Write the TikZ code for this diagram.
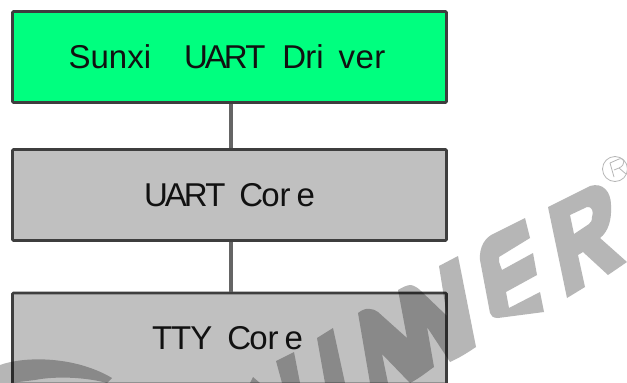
\documentclass[tikz,border=0pt]{standalone}
\usepackage{fontspec}
\setmainfont{Liberation Sans}
\definecolor{boxline}{HTML}{3E3E3E}
\definecolor{greenfill}{HTML}{00FF7F}
\definecolor{grayfill}{HTML}{C0C0C0}
\definecolor{wmark}{HTML}{B6B6B6}
\definecolor{inktext}{HTML}{111111}
\newcommand{\tk}[1]{\kern#1pt\relax}
\tikzset{
  layerbox/.style={draw=boxline,line width=2.8pt,rounded corners=1pt,minimum width=434pt,minimum height=91pt,inner sep=0pt,text=inktext,font=\fontsize{33}{35}\selectfont},
  link/.style={draw=boxline!80!white,line width=3.2pt},
  wm/.style={fill=wmark,draw=none}
}
\begin{document}
\begin{tikzpicture}[x=1pt,y=-1pt]
\useasboundingbox (0,0) rectangle (627,383);
\clip (0,0) rectangle (627,383);
\fill[white] (0,0) rectangle (627,383);
\node[layerbox,fill=greenfill] (driver) at (229.5,57) {Sunxi\hspace{33pt}U\tk{-3}A\tk{-3}R\tk{-2.5}T\hspace{17pt}D\tk{-1}ri\hspace{15pt}v\tk{0.5}e\tk{0.5}r\tk{5}};
\node[layerbox,fill=grayfill] (ucore) at (229.5,195) {U\tk{-3}A\tk{-3}R\tk{-2.5}T\hspace{14pt}C\tk{-2}or\hspace{6pt}e};
\node[layerbox,fill=grayfill] (tcore) at (229.5,338.5) {T\tk{-1}T\tk{-1}Y\hspace{15pt}C\tk{-2}or\hspace{6pt}e\tk{4}};
\draw[link] (driver.south -| 231,0) -- (ucore.north -| 231,0);
\draw[link] (ucore.south -| 231,0) -- (tcore.north -| 231,0);
\begin{scope}[blend mode=multiply]
% R
\fill[wm,even odd rule] (567,298) -- (548,207) -- (590,186) .. controls (603,182) and (611,192) .. (611,205) .. controls (612,220) and (608,232) .. (600,238) -- (627,262) -- (608,275) -- (583,252) -- (578,255) -- (585,287) -- cycle
 (570,215) -- (587,207) .. controls (592,206) and (594,212) .. (592,217) .. controls (592,221) and (591,222) .. (589,224) -- (574,234) -- cycle;
% E
\fill[wm] (525,218) -- (530,238) -- (499,257) .. controls (498,260) and (499,262) .. (502,270) -- (533,253) -- (537,275) -- (506,292) -- (509,308) -- (540,292) -- (544,312) -- (498,318) .. controls (493,318) and (491,316) .. (490,313) -- (480,260) .. controls (479,247) and (485,237) .. (495,233) -- cycle;
% N shapes
\fill[wm] (370,383) -- (358,313) .. controls (362,310) and (366,308) .. (370,309) .. controls (373,309) and (375,310) .. (378,312) -- (407,338) -- (398,290) .. controls (403,287) and (407,285) .. (411,285) .. controls (415,286) and (418,288) .. (421,291) -- (447,316) -- (439,266) -- (458,256) -- (476,347) .. controls (467,353) and (459,358) .. (450,362) -- (427,327) -- (434,367) .. controls (428,371) and (420,378) .. (410,383) -- (382,354) -- (388,383) -- cycle;
% stems
\fill[wm] (317,338) -- (333,328) -- (345,383) -- (325,383) -- cycle;
\fill[wm] (276,361) -- (294,352) -- (300,383) -- (282,383) -- cycle;
\fill[wm] (253,377) -- (260,383) -- (250,383) -- cycle;
% arc
\fill[wm] (0,365) .. controls (25,356) and (75,356) .. (112,378) -- (107,383) .. controls (85,377) and (55,376) .. (35,380) -- (10,383) -- (0,383) -- cycle;
\end{scope}
% registered mark
\draw[wmark,line width=0.8pt] (615,169) circle (12.5);
\draw[wmark,line width=0.8pt,line join=round] (614,177) -- (610,163) -- (619,159) .. controls (625,157) and (626,165) .. (619,168) -- (614,170) (619,168) -- (626,174);
\end{tikzpicture}
\end{document}
